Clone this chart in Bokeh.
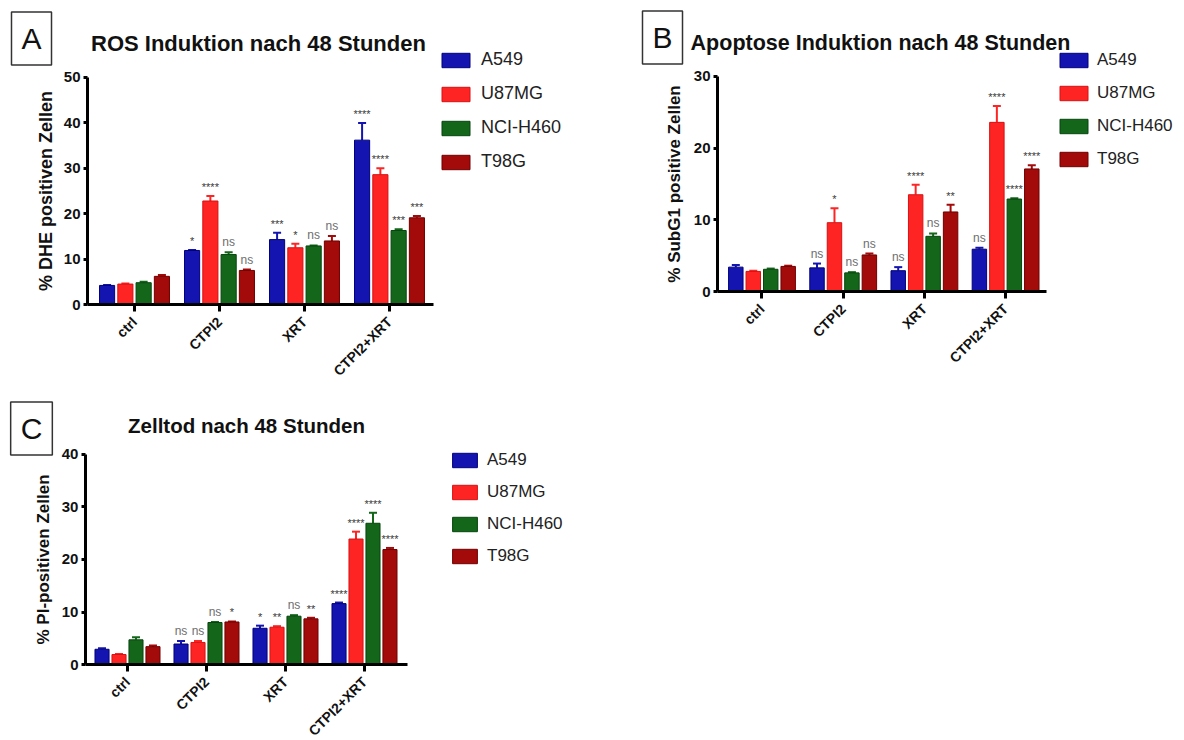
from math import pi
from bokeh.plotting import figure
from bokeh.models import (ColumnDataSource, Range1d, Whisker, TeeHead, LinearAxis,
                          Legend, LegendItem, Label, FixedTicker)
from bokeh.transform import dodge
from bokeh.layouts import column, row
from bokeh.core.properties import value
from bokeh.embed import file_html
from bokeh.resources import INLINE

# ---------------- data ----------------
categories = ["ctrl", "CTPI2", "XRT", "CTPI2+XRT"]
cell_lines = ["A549", "U87MG", "NCI-H460", "T98G"]

# Panel A: ROS induction (% DHE positive cells)
ros_mean = {
    "A549":     [4.2, 11.9, 14.3, 36.2],
    "U87MG":    [4.5, 22.8, 12.5, 28.6],
    "NCI-H460": [4.8, 11.0, 12.9, 16.3],
    "T98G":     [6.2, 7.5, 14.0, 19.1],
}
ros_err = {
    "A549":     [0.1, 0.1, 1.5, 3.8],
    "U87MG":    [0.1, 1.1, 0.9, 1.4],
    "NCI-H460": [0.2, 0.5, 0.1, 0.3],
    "T98G":     [0.3, 0.2, 1.1, 0.4],
}
ros_sig = {
    "A549":     ["", "*", "***", "****"],
    "U87MG":    ["", "****", "*", "****"],
    "NCI-H460": ["", "ns", "ns", "***"],
    "T98G":     ["", "ns", "ns", "***"],
}

# Panel B: apoptosis (% SubG1 positive cells)
apo_mean = {
    "A549":     [3.4, 3.3, 2.9, 5.9],
    "U87MG":    [2.8, 9.6, 13.5, 23.6],
    "NCI-H460": [3.1, 2.6, 7.7, 12.9],
    "T98G":     [3.5, 5.1, 11.1, 17.1],
}
apo_err = {
    "A549":     [0.3, 0.6, 0.5, 0.2],
    "U87MG":    [0.1, 2.0, 1.4, 2.3],
    "NCI-H460": [0.1, 0.1, 0.4, 0.1],
    "T98G":     [0.1, 0.2, 1.0, 0.5],
}
apo_sig = {
    "A549":     ["", "ns", "ns", "ns"],
    "U87MG":    ["", "*", "****", "****"],
    "NCI-H460": ["", "ns", "ns", "****"],
    "T98G":     ["", "ns", "**", "****"],
}

# Panel C: cell death (% PI positive cells)
pi_mean = {
    "A549":     [2.9, 3.9, 6.9, 11.6],
    "U87MG":    [1.9, 4.2, 7.1, 23.9],
    "NCI-H460": [4.7, 8.0, 9.2, 26.9],
    "T98G":     [3.4, 8.1, 8.7, 21.9],
}
pi_err = {
    "A549":     [0.2, 0.6, 0.5, 0.2],
    "U87MG":    [0.1, 0.3, 0.2, 1.4],
    "NCI-H460": [0.5, 0.1, 0.2, 2.0],
    "T98G":     [0.2, 0.1, 0.2, 0.3],
}
pi_sig = {
    "A549":     ["", "ns", "*", "****"],
    "U87MG":    ["", "ns", "**", "****"],
    "NCI-H460": ["", "ns", "ns", "****"],
    "T98G":     ["", "*", "**", "****"],
}

# ---------------- style ----------------
FONT = "Liberation Sans"
fills = {"A549": "#1414B0", "U87MG": "#FF2424", "NCI-H460": "#13661A", "T98G": "#A30A0A"}
edges = {"A549": "#00007A", "U87MG": "#D81010", "NCI-H460": "#07450E", "T98G": "#700000"}
offsets = [-0.3225, -0.1075, 0.1075, 0.3225]
BAR_W = 0.178
cat_pos = list(range(len(categories)))


def panel(width, height, xr, yr, x_axis_end, y_axis_x, ymax, yticks,
          means, errs, sigs, ylabel, ylabel_size, ylabel_standoff,
          title, title_size, title_xy, letter, letter_xy,
          legend_xy, glyph_w, leg_standoff, leg_spacing, leg_font):
    p = figure(width=width, height=height, output_backend="svg", toolbar_location=None,
               x_range=Range1d(*xr), y_range=Range1d(*yr),
               x_axis_type=None, y_axis_type=None,
               min_border_left=0, min_border_right=0, min_border_top=0, min_border_bottom=0)
    p.title.visible = False
    p.outline_line_color = None
    p.background_fill_color = "white"
    p.border_fill_color = "white"

    items = []
    for line, off in zip(cell_lines, offsets):
        vals = means[line]
        hi = [v + e for v, e in zip(vals, errs[line])]
        sig = sigs[line]
        src = ColumnDataSource(dict(
            pos=cat_pos, cat=categories, val=vals, hi=hi, sig=sig,
            sz=["12px" if s == "ns" else "11px" for s in sig],
            col=["#6E6E6E" if s == "ns" else "#3A3A3A" for s in sig],
        ))
        xs = dodge("pos", off)
        r = p.vbar(x=xs, top="val", bottom=0, width=BAR_W, source=src,
                   fill_color=fills[line], line_color=edges[line], line_width=1)
        wk = Whisker(base=xs, lower="val", upper="hi", source=src, dimension="height",
                     line_color=fills[line], line_width=2,
                     upper_head=TeeHead(size=8, line_color=fills[line], line_width=2),
                     lower_head=None)
        p.add_layout(wk)
        p.text(x=xs, y="hi", text="sig", source=src, text_align="center",
               text_baseline="bottom", y_offset=-3, text_font_size="sz",
               text_color="col", text_font=value(FONT))
        items.append(LegendItem(label=line, renderers=[r]))

    legend = Legend(items=items, location=legend_xy, glyph_width=glyph_w, glyph_height=18,
                    label_height=18, label_standoff=leg_standoff, spacing=leg_spacing,
                    padding=0, margin=0, border_line_color=None, background_fill_alpha=0,
                    label_text_font=FONT, label_text_font_size=leg_font,
                    label_text_color="#222222")
    p.add_layout(legend)

    xaxis = LinearAxis(fixed_location=0, bounds=(y_axis_x, x_axis_end),
                       ticker=FixedTicker(ticks=cat_pos),
                       major_label_overrides={i: c for i, c in zip(cat_pos, categories)})
    yaxis = LinearAxis(fixed_location=y_axis_x, bounds=(0, ymax),
                       ticker=FixedTicker(ticks=yticks))
    p.add_layout(xaxis, "below")
    p.add_layout(yaxis, "left")
    for ax in (xaxis, yaxis):
        ax.axis_line_width = 3
        ax.axis_line_color = "black"
        ax.major_tick_line_width = 3
        ax.major_tick_line_color = "black"
        ax.major_tick_in = 0
        ax.minor_tick_line_color = None
        ax.major_label_text_font = FONT
        ax.major_label_text_font_style = "bold"
        ax.major_label_text_color = "#111111"
    xaxis.major_tick_out = 7
    xaxis.major_label_orientation = pi / 4
    xaxis.major_label_text_font_size = "14px"
    xaxis.major_label_standoff = 8
    yaxis.major_tick_out = 4
    yaxis.major_label_standoff = 3
    yaxis.major_label_text_font_size = "15px"
    yaxis.axis_label = ylabel
    yaxis.axis_label_text_font = FONT
    yaxis.axis_label_text_font_style = "bold"
    yaxis.axis_label_text_font_size = ylabel_size
    yaxis.axis_label_text_color = "#111111"
    yaxis.axis_label_standoff = ylabel_standoff

    p.add_layout(Label(x=title_xy[0], y=title_xy[1], x_units="screen", y_units="screen",
                       text=title, text_font=FONT, text_font_style="bold",
                       text_font_size=title_size, text_align="center",
                       text_baseline="middle", text_color="#111111"))
    p.add_layout(Label(x=letter_xy[0], y=letter_xy[1], x_units="screen", y_units="screen",
                       text=letter, text_font=FONT, text_font_size="30px",
                       text_align="center", text_baseline="middle", text_color="#111111",
                       border_line_color="#333333", border_line_width=1.5,
                       background_fill_color="white", padding=(10, 10)))
    return p


# Panel A: 640x382, category pitch 85px, first centre at x=134, y0 at 304, 4.54 px/unit
pA = panel(640, 382, (-1.5765, 5.9529), (-17.18, 66.96), 3.518, -0.553, 50,
           [0, 10, 20, 30, 40, 50],
           ros_mean, ros_err, ros_sig, "% DHE positiven Zellen", "18px", 5,
           "ROS Induktion nach 48  Stunden", "22px", (261, 339),
           "A", (31, 344), (438, 210), 35, 8, 13, "18px")

# Panel B: 544x382 at x=640, pitch 81.2, first centre local 121.5, y0 at 291, 7.167 px/unit
pB = panel(544, 382, (-1.4963, 5.2032), (-12.697, 40.603), 3.504, -0.548, 30,
           [0, 10, 20, 30],
           apo_mean, apo_err, apo_sig, "% SubG1 positive Zellen", "17px", 7,
           "Apoptose Induktion nach 48  Stunden", "21.5px", (243, 340),
           "B", (22, 345), (416, 213), 35, 6, 13, "17px")

# Panel C: 640x358 at y=382, pitch 79, first centre 127, y0 at local 282, 5.25 px/unit
pC = panel(640, 358, (-1.6076, 6.4937), (-14.476, 53.714), 3.544, -0.532, 40,
           [0, 10, 20, 30, 40],
           pi_mean, pi_err, pi_sig, "% PI-positiven Zellen", "17px", 6,
           "Zelltod nach 48 Stunden", "20.5px", (246, 315),
           "C", (31, 312), (449, 174), 31, 7, 12, "17px")

layout = column(row(pA, pB), pC)
open("out.html", "w").write(file_html(layout, INLINE))
